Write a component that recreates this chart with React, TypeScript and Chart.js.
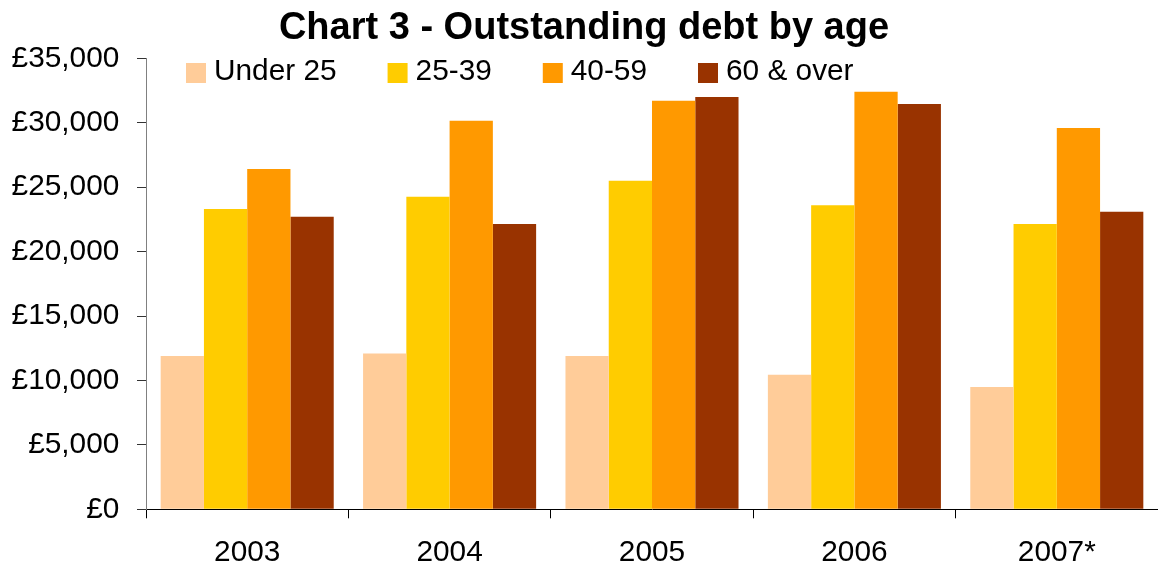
import React, { useEffect, useRef } from "react";
import { Chart, registerables } from "chart.js";

Chart.register(...registerables);

// Outstanding debt (£) per borrower age band, by year
const years = ["2003", "2004", "2005", "2006", "2007*"];
const ageBands = ["Under 25", "25-39", "40-59", "60 & over"];
const under25 = [11900, 12100, 11900, 10450, 9500];
const age25to39 = [23300, 24250, 25500, 23600, 22150];
const age40to59 = [26400, 30150, 31700, 32400, 29600];
const age60plus = [22700, 22150, 32000, 31450, 23100];
const bandColours = ["#FFCC99", "#FFCC00", "#FF9900", "#993300"];

const yMin = 0;
const yMax = 35000;
const yStep = 5000;

const FONT = "'Liberation Sans', Arial, Helvetica, sans-serif";
const LABEL_SIZE = 29.8;

// Legend drawn inside the top of the plot area, one row of swatches
const insideLegend = {
  id: "insideLegend",
  afterDraw(chart: any) {
    const ctx = chart.ctx as CanvasRenderingContext2D;
    ctx.save();
    ctx.font = `${LABEL_SIZE}px ${FONT}`;
    ctx.textBaseline = "alphabetic";
    ctx.textAlign = "left";
    let x = 186;
    const boxTop = 63;
    const box = 20;
    chart.data.datasets.forEach((ds: any) => {
      ctx.fillStyle = ds.backgroundColor;
      ctx.fillRect(x, boxTop, box, box);
      ctx.fillStyle = "#000000";
      ctx.fillText(ds.label, x + box + 8, 79.5);
      x += box + 8 + ctx.measureText(ds.label).width + 51;
    });
    ctx.restore();
  },
};

export default function App() {
  const canvasRef = useRef<HTMLCanvasElement | null>(null);

  useEffect(() => {
    if (!canvasRef.current) return;
    const series = [under25, age25to39, age40to59, age60plus];
    const chart = new Chart(canvasRef.current, {
      type: "bar",
      data: {
        labels: years,
        datasets: ageBands.map((band, i) => ({
          label: band,
          data: series[i],
          backgroundColor: bandColours[i],
          borderWidth: 0,
          categoryPercentage: 0.855,
          barPercentage: 1,
        })),
      },
      options: {
        responsive: false,
        animation: false,
        layout: { padding: { left: 10, right: 0, top: 0, bottom: 0 } },
        plugins: {
          legend: { display: false },
          tooltip: { enabled: false },
          title: {
            display: true,
            text: "Chart 3 - Outstanding debt by age",
            color: "#000000",
            font: { family: FONT, size: 38, weight: "bold", lineHeight: 1.2 },
            padding: { top: 5.4, bottom: 7.3 },
          },
        },
        scales: {
          x: {
            grid: {
              display: true,
              drawOnChartArea: false,
              drawTicks: true,
              tickLength: 9,
              tickColor: "#000000",
              offset: true,
            },
            border: { display: true, color: "#000000", width: 1 },
            ticks: {
              color: "#000000",
              font: { family: FONT, size: LABEL_SIZE },
              padding: 17,
              maxRotation: 0,
            },
            afterFit: (scale: any) => {
              scale.height = 58.7;
            },
          },
          y: {
            min: yMin,
            max: yMax,
            grid: {
              display: true,
              drawOnChartArea: false,
              drawTicks: true,
              tickLength: 9,
              tickColor: "#333333",
            },
            border: { display: true, color: "#808080", width: 1 },
            ticks: {
              stepSize: yStep,
              color: "#000000",
              font: { family: FONT, size: LABEL_SIZE },
              padding: 17.7,
              callback: (v: any) => "£" + Number(v).toLocaleString("en-GB"),
            },
            afterFit: (scale: any) => {
              scale.width = 136;
            },
          },
        },
      },
      plugins: [insideLegend],
    });
    return () => chart.destroy();
  }, []);

  return (
    <div style={{ position: "absolute", left: 0, top: 0, width: 1158, height: 568, background: "#ffffff" }}>
      <canvas ref={canvasRef} width={1158} height={568} style={{ display: "block" }} />
    </div>
  );
}
